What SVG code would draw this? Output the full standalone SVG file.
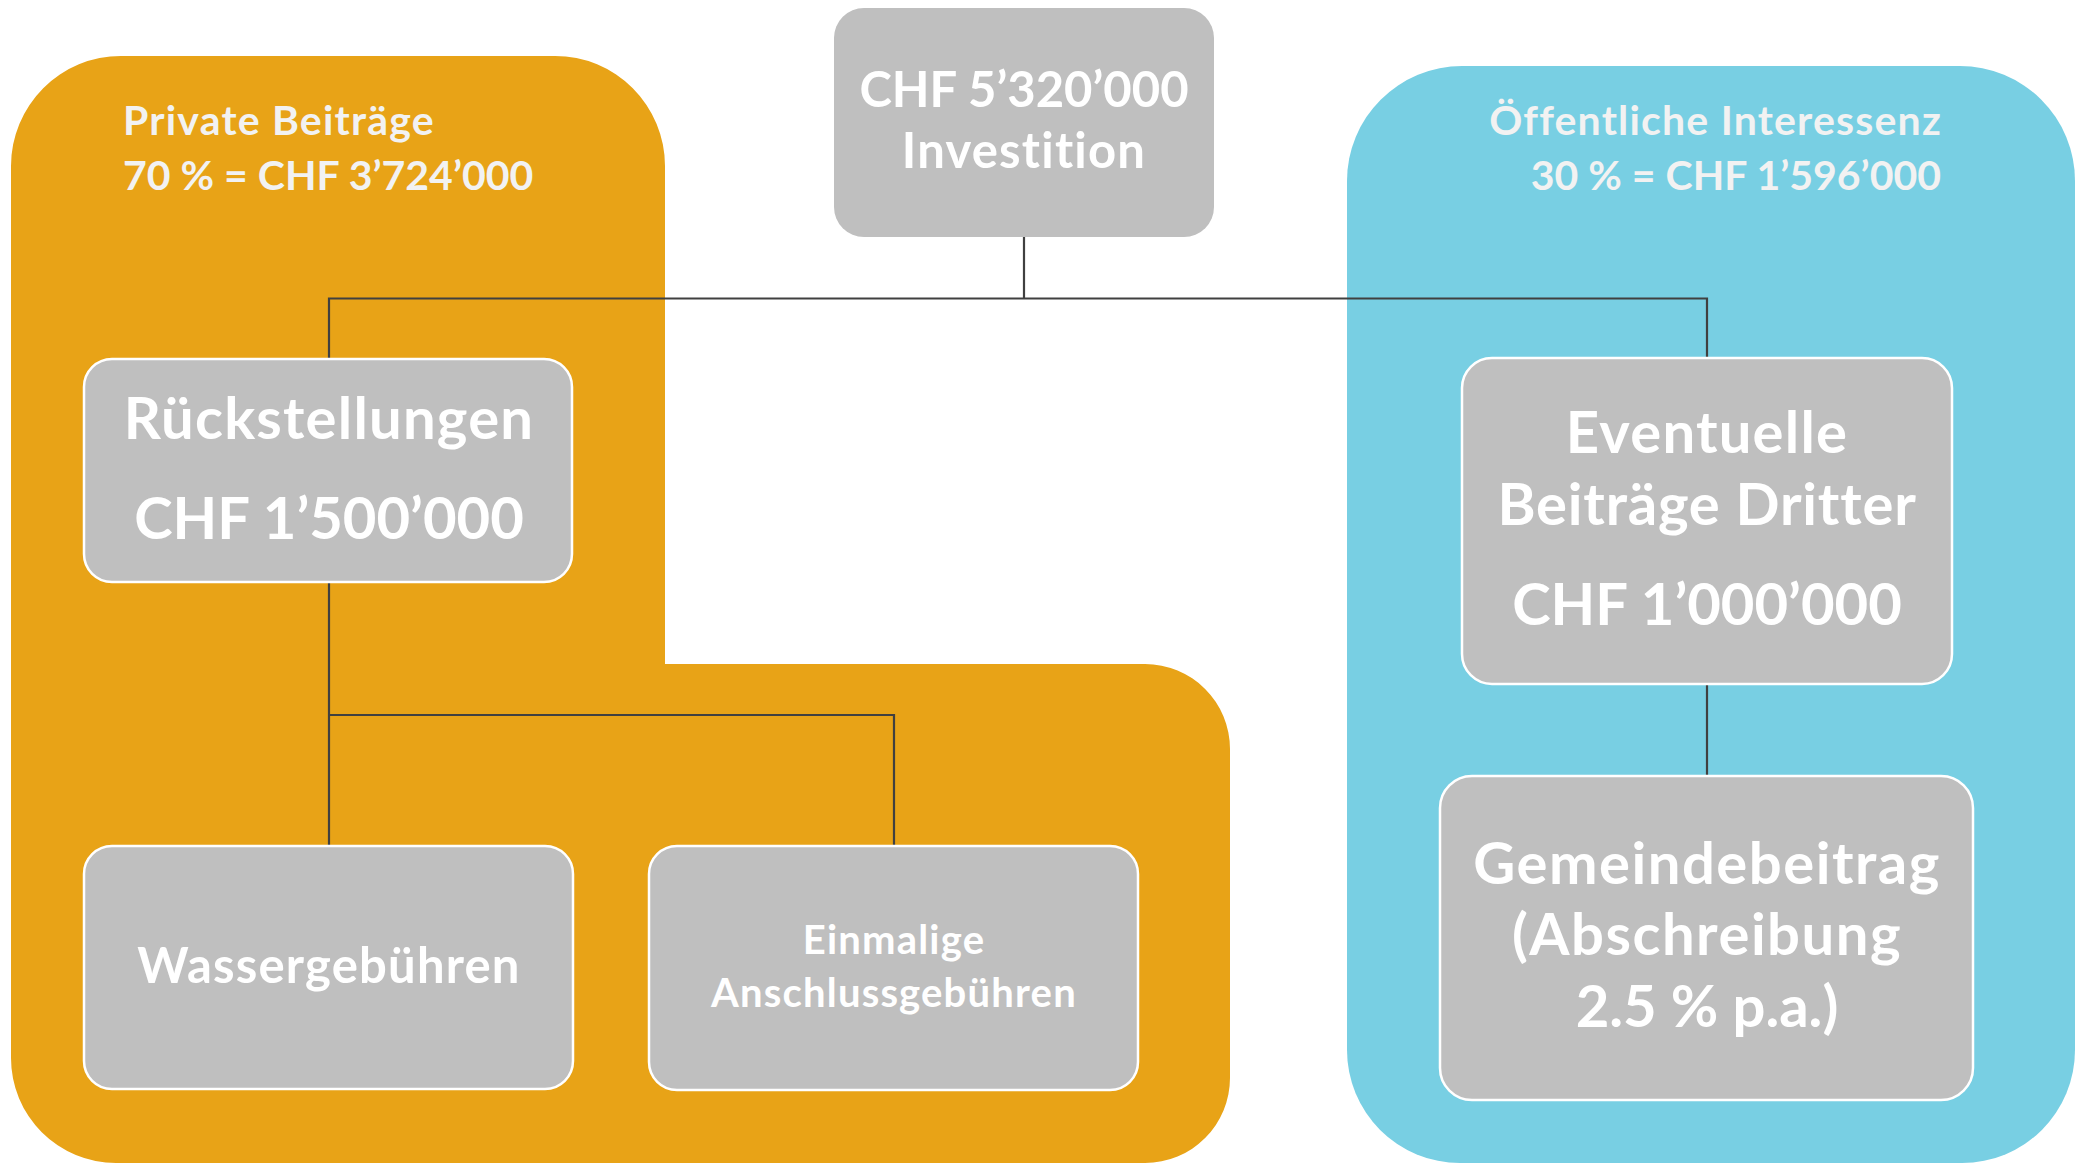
<svg xmlns="http://www.w3.org/2000/svg" width="2087" height="1163" viewBox="0 0 2087 1163">
<style>
.t{font-family:Lato,"Liberation Sans",sans-serif;font-weight:700;fill:#FFFFFF;text-anchor:middle}
.h{font-family:Lato,"Liberation Sans",sans-serif;font-weight:700;fill:#F2F2F2;font-size:41px}
.w{letter-spacing:1.2px}
.w2{letter-spacing:1.5px}
.box{fill:#BFBFBF;stroke:#FFFFFF;stroke-width:2.5}
.conn{fill:none;stroke:#404040;stroke-width:2.2}
</style>
<rect width="2087" height="1163" fill="#FFFFFF"/>
<g id="region-private">
<path d="M 11 166 A 110 110 0 0 1 121 56 L 555 56 A 110 110 0 0 1 665 166 L 665 664 L 1145 664 A 85 85 0 0 1 1230 749 L 1230 1078 A 85 85 0 0 1 1145 1163 L 116 1163 A 105 105 0 0 1 11 1058 Z" fill="#E8A317"/>
<text class="h w" x="123" y="135">Private Beiträge</text>
<text class="h" x="123" y="190">70 % = CHF 3’724’000</text>
</g>
<g id="region-public">
<path d="M 1347 181 A 115 115 0 0 1 1462 66 L 1960 66 A 115 115 0 0 1 2075 181 L 2075 1050 A 113 113 0 0 1 1962 1163 L 1460 1163 A 113 113 0 0 1 1347 1050 Z" fill="#78CFE3"/>
<text class="h w" x="1942" y="135" text-anchor="end">Öffentliche Interessenz</text>
<text class="h" x="1941" y="190" text-anchor="end">30 % = CHF 1’596’000</text>
</g>
<g id="connectors">
<path class="conn" d="M 1024 237 L 1024 298.5 M 329 358 L 329 298.5 L 1707 298.5 L 1707 358"/>
<path class="conn" d="M 329 582 L 329 846 M 329 715 L 894 715 L 894 846"/>
<path class="conn" d="M 1707 684 L 1707 776"/>
</g>
<g id="node-investition">
<rect x="834" y="8" width="380" height="229" rx="30" fill="#BFBFBF"/>
<text class="t" x="1024" y="107" font-size="49">CHF 5’320’000</text>
<text class="t w" x="1024" y="168" font-size="49">Investition</text>
</g>
<g id="node-rueckstellungen">
<rect class="box" x="84" y="359" width="488" height="223" rx="28"/>
<text class="t w" x="329" y="439" font-size="58">Rückstellungen</text>
<text class="t" x="329" y="539" font-size="58">CHF 1’500’000</text>
</g>
<g id="node-wasser">
<rect class="box" x="84" y="846" width="489" height="243" rx="28"/>
<text class="t w" x="329" y="983" font-size="49">Wassergebühren</text>
</g>
<g id="node-einmalige">
<rect class="box" x="649" y="846" width="489" height="244" rx="28"/>
<text class="t w" x="894" y="954" font-size="40">Einmalige</text>
<text class="t w" x="894" y="1007" font-size="40">Anschlussgebühren</text>
</g>
<g id="node-dritter">
<rect class="box" x="1462" y="358" width="490" height="326" rx="30"/>
<text class="t w" x="1707" y="453" font-size="58">Eventuelle</text>
<text class="t" x="1707" y="525" font-size="58" letter-spacing="0.8">Beiträge Dritter</text>
<text class="t" x="1707" y="625" font-size="58">CHF 1’000’000</text>
</g>
<g id="node-gemeinde">
<rect class="box" x="1440" y="776" width="533" height="324" rx="32"/>
<text class="t w2" x="1707" y="884" font-size="58">Gemeindebeitrag</text>
<text class="t w2" x="1707" y="955" font-size="58">(Abschreibung</text>
<text class="t" x="1707" y="1027" font-size="58">2.5 % p.a.)</text>
</g>
</svg>
